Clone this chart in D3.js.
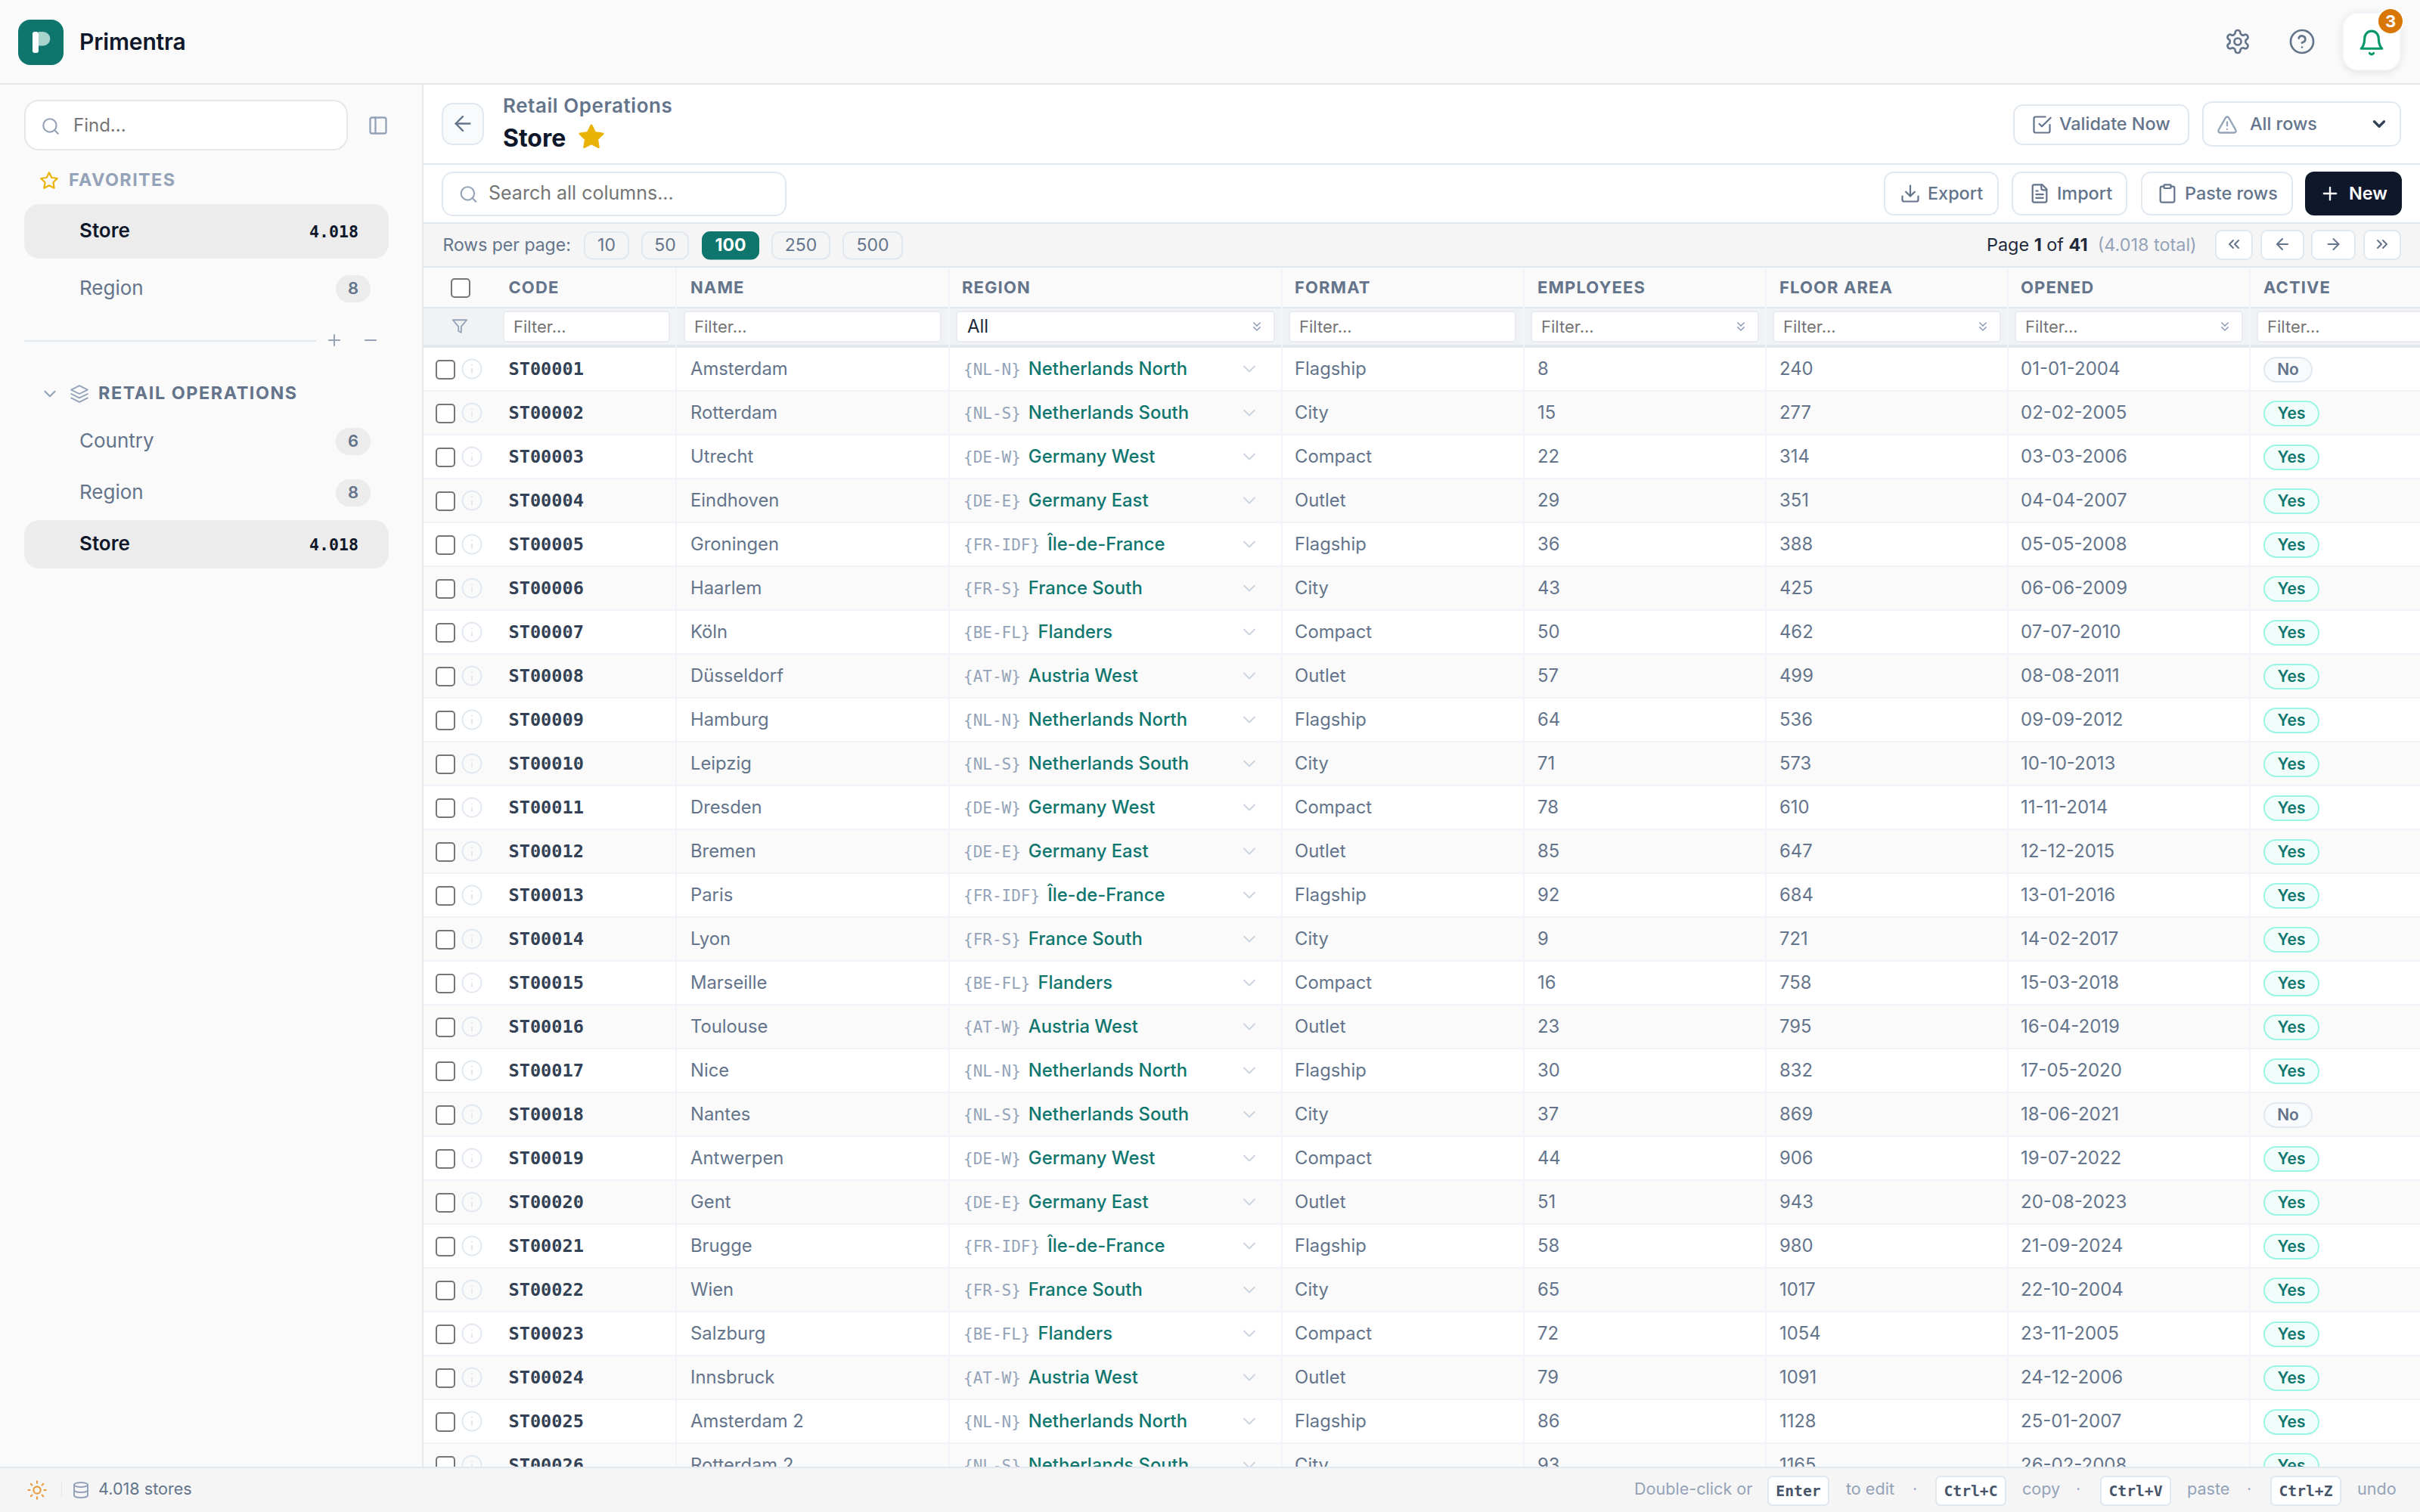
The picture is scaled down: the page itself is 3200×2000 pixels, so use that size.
<!DOCTYPE html>
<html>
<head>
<meta charset="utf-8">
<script src="https://cdn.jsdelivr.net/npm/d3@7"></script>
<style>
  html, body { margin: 0; padding: 0; background: #fff; overflow: hidden; }
  svg { display: block; }
</style>
</head>
<body>
<div id="chart"></div>
<script>
//data
var columns = ['CODE', 'NAME', 'REGION', 'FORMAT', 'EMPLOYEES', 'FLOOR AREA', 'OPENED', 'ACTIVE'];
var codes = ['ST00001', 'ST00002', 'ST00003', 'ST00004', 'ST00005', 'ST00006', 'ST00007', 'ST00008', 'ST00009', 'ST00010', 'ST00011', 'ST00012', 'ST00013', 'ST00014', 'ST00015', 'ST00016', 'ST00017', 'ST00018', 'ST00019', 'ST00020', 'ST00021', 'ST00022', 'ST00023', 'ST00024', 'ST00025', 'ST00026'];
var names = ['Amsterdam', 'Rotterdam', 'Utrecht', 'Eindhoven', 'Groningen', 'Haarlem', 'Köln', 'Düsseldorf', 'Hamburg', 'Leipzig', 'Dresden', 'Bremen', 'Paris', 'Lyon', 'Marseille', 'Toulouse', 'Nice', 'Nantes', 'Antwerpen', 'Gent', 'Brugge', 'Wien', 'Salzburg', 'Innsbruck', 'Amsterdam 2', 'Rotterdam 2'];
var regionCodes = ['NL-N', 'NL-S', 'DE-W', 'DE-E', 'FR-IDF', 'FR-S', 'BE-FL', 'AT-W', 'NL-N', 'NL-S', 'DE-W', 'DE-E', 'FR-IDF', 'FR-S', 'BE-FL', 'AT-W', 'NL-N', 'NL-S', 'DE-W', 'DE-E', 'FR-IDF', 'FR-S', 'BE-FL', 'AT-W', 'NL-N', 'NL-S'];
var regionNames = ['Netherlands North', 'Netherlands South', 'Germany West', 'Germany East', 'Île-de-France', 'France South', 'Flanders', 'Austria West', 'Netherlands North', 'Netherlands South', 'Germany West', 'Germany East', 'Île-de-France', 'France South', 'Flanders', 'Austria West', 'Netherlands North', 'Netherlands South', 'Germany West', 'Germany East', 'Île-de-France', 'France South', 'Flanders', 'Austria West', 'Netherlands North', 'Netherlands South'];
var formats = ['Flagship', 'City', 'Compact', 'Outlet', 'Flagship', 'City', 'Compact', 'Outlet', 'Flagship', 'City', 'Compact', 'Outlet', 'Flagship', 'City', 'Compact', 'Outlet', 'Flagship', 'City', 'Compact', 'Outlet', 'Flagship', 'City', 'Compact', 'Outlet', 'Flagship', 'City'];
var employees = [8, 15, 22, 29, 36, 43, 50, 57, 64, 71, 78, 85, 92, 9, 16, 23, 30, 37, 44, 51, 58, 65, 72, 79, 86, 93];
var floorAreas = [240, 277, 314, 351, 388, 425, 462, 499, 536, 573, 610, 647, 684, 721, 758, 795, 832, 869, 906, 943, 980, 1017, 1054, 1091, 1128, 1165];
var opened = ['01-01-2004', '02-02-2005', '03-03-2006', '04-04-2007', '05-05-2008', '06-06-2009', '07-07-2010', '08-08-2011', '09-09-2012', '10-10-2013', '11-11-2014', '12-12-2015', '13-01-2016', '14-02-2017', '15-03-2018', '16-04-2019', '17-05-2020', '18-06-2021', '19-07-2022', '20-08-2023', '21-09-2024', '22-10-2004', '23-11-2005', '24-12-2006', '25-01-2007', '26-02-2008'];
var active = ['No', 'Yes', 'Yes', 'Yes', 'Yes', 'Yes', 'Yes', 'Yes', 'Yes', 'Yes', 'Yes', 'Yes', 'Yes', 'Yes', 'Yes', 'Yes', 'Yes', 'No', 'Yes', 'Yes', 'Yes', 'Yes', 'Yes', 'Yes', 'Yes', 'Yes'];
var pageSizes = ['10', '50', '100', '250', '500'];

//dims
var width = 3200;
var height = 2000;
var sans = 'Inter, sans-serif';
var mono = '"DejaVu Sans Mono", monospace';
var cell = 23.8;

//scales
var y = d3.scaleBand().domain(codes).range([460, 460 + codes.length * 58]);
var colLeft = d3.scaleOrdinal().domain(columns).range([560, 894, 1255, 1695, 2015, 2335, 2655, 2975]);
var colText = d3.scaleOrdinal().domain(columns).range([672.5, 913, 1272, 1712, 2033, 2353, 2672, 2993]);

var svg = d3.select('#chart')
  .append('svg')
  .attr('width', width)
  .attr('height', height)
  .attr('viewBox', '0 0 ' + width + ' ' + height);

//lucide style icons on a 24 grid
var icons = {
  search: ['M11 3a8 8 0 1 0 0 16a8 8 0 1 0 0-16', 'm21 21-4.3-4.3'],
  panel: ['M5 3h14a2 2 0 0 1 2 2v14a2 2 0 0 1-2 2H5a2 2 0 0 1-2-2V5a2 2 0 0 1 2-2z', 'M9 3v18'],
  star: ['M12 2 15.09 8.26 22 9.27 17 14.14 18.18 21.02 12 17.77 5.82 21.02 7 14.14 2 9.27 8.91 8.26z'],
  plus: ['M5 12h14', 'M12 5v14'],
  minus: ['M5 12h14'],
  chevron: ['m6 9 6 6 6-6'],
  chevrons: ['m7 6 5 5 5-5', 'm7 13 5 5 5-5'],
  layers: ['m12 2-10 5 10 5 10-5z', 'M2 17l10 5 10-5', 'M2 12l10 5 10-5'],
  back: ['m12 19-7-7 7-7', 'M19 12H5'],
  forward: ['M5 12h14', 'm12 5 7 7-7 7'],
  gear: ['M12.22 2h-.44a2 2 0 0 0-2 2v.18a2 2 0 0 1-1 1.73l-.43.25a2 2 0 0 1-2 0l-.15-.08a2 2 0 0 0-2.73.73l-.22.38a2 2 0 0 0 .73 2.73l.15.1a2 2 0 0 1 1 1.72v.51a2 2 0 0 1-1 1.74l-.15.09a2 2 0 0 0-.73 2.73l.22.38a2 2 0 0 0 2.73.73l.15-.08a2 2 0 0 1 2 0l.43.25a2 2 0 0 1 1 1.73V20a2 2 0 0 0 2 2h.44a2 2 0 0 0 2-2v-.18a2 2 0 0 1 1-1.73l.43-.25a2 2 0 0 1 2 0l.15.08a2 2 0 0 0 2.73-.73l.22-.39a2 2 0 0 0-.73-2.73l-.15-.08a2 2 0 0 1-1-1.74v-.5a2 2 0 0 1 1-1.74l.15-.09a2 2 0 0 0 .73-2.73l-.22-.38a2 2 0 0 0-2.73-.73l-.15.08a2 2 0 0 1-2 0l-.43-.25a2 2 0 0 1-1-1.73V4a2 2 0 0 0-2-2z', 'M12 9a3 3 0 1 0 0 6a3 3 0 1 0 0-6'],
  help: ['M12 2a10 10 0 1 0 0 20a10 10 0 1 0 0-20', 'M9.09 9a3 3 0 0 1 5.83 1c0 2-3 3-3 3', 'M12 17h.01'],
  bell: ['M6 8a6 6 0 0 1 12 0c0 7 3 9 3 9H3s3-2 3-9', 'M10.3 21a1.94 1.94 0 0 0 3.4 0'],
  check: ['m9 11 3 3L22 4', 'M21 12v7a2 2 0 0 1-2 2H5a2 2 0 0 1-2-2V5a2 2 0 0 1 2-2h11'],
  warn: ['m21.73 18-8-14a2 2 0 0 0-3.48 0l-8 14A2 2 0 0 0 4 21h16a2 2 0 0 0 1.73-3', 'M12 9v4', 'M12 17h.01'],
  download: ['M21 15v4a2 2 0 0 1-2 2H5a2 2 0 0 1-2-2v-4', 'M7 10l5 5 5-5', 'M12 15V3'],
  file: ['M15 2H6a2 2 0 0 0-2 2v16a2 2 0 0 0 2 2h12a2 2 0 0 0 2-2V7Z', 'M14 2v4a2 2 0 0 0 2 2h4', 'M10 9H8', 'M16 13H8', 'M16 17H8'],
  clipboard: ['M9 2h6a1 1 0 0 1 1 1v2a1 1 0 0 1-1 1H9a1 1 0 0 1-1-1V3a1 1 0 0 1 1-1z', 'M16 4h2a2 2 0 0 1 2 2v14a2 2 0 0 1-2 2H6a2 2 0 0 1-2-2V6a2 2 0 0 1 2-2h2'],
  first: ['m11 17-5-5 5-5', 'm18 17-5-5 5-5'],
  last: ['m6 17 5-5-5-5', 'm13 17 5-5-5-5'],
  funnel: ['M22 3H2l8 9.46V19l4 2v-8.54z'],
  info: ['M12 2a10 10 0 1 0 0 20a10 10 0 1 0 0-20', 'M12 16v-4', 'M12 8h.01'],
  sun: ['M12 8a4 4 0 1 0 0 8a4 4 0 1 0 0-8', 'M12 2v2', 'M12 20v2', 'm4.93 4.93 1.41 1.41', 'm17.66 17.66 1.41 1.41', 'M2 12h2', 'M20 12h2', 'm6.34 17.66-1.41 1.41', 'm19.07 4.93-1.41 1.41'],
  database: ['M3 5a9 3 0 1 0 18 0a9 3 0 1 0-18 0', 'M3 5V19A9 3 0 0 0 21 19V5', 'M3 12A9 3 0 0 0 21 12']
};

function box(parent, x, y, w, h, r, fill, stroke, sw) {
  return parent.append('rect')
    .attr('x', x).attr('y', y)
    .attr('width', w).attr('height', h)
    .attr('rx', r)
    .attr('fill', fill)
    .attr('stroke', stroke || 'none')
    .attr('stroke-width', sw || 0);
}

function label(parent, x, y, str, size, weight, fill, family, anchor, spacing) {
  return parent.append('text')
    .attr('x', x).attr('y', y)
    .attr('font-family', family || sans)
    .attr('font-size', size)
    .attr('font-weight', weight)
    .attr('fill', fill)
    .attr('text-anchor', anchor || 'start')
    .attr('letter-spacing', spacing || 0)
    .attr('xml:space', 'preserve')
    .text(str);
}

// cx, cy is the middle of the icon
function icon(parent, cx, cy, size, name, color, sw, fill) {
  var k = size / 24;
  var g = parent.append('g')
    .attr('transform', 'translate(' + (cx - size / 2) + ',' + (cy - size / 2) + ') scale(' + k + ')')
    .attr('fill', fill || 'none')
    .attr('stroke', color)
    .attr('stroke-width', sw)
    .attr('stroke-linecap', 'round')
    .attr('stroke-linejoin', 'round');
  g.selectAll('path').data(icons[name]).enter().append('path').attr('d', function(d) { return d; });
  return g;
}

function hline(parent, x1, x2, y, color, sw) {
  parent.append('rect').attr('x', x1).attr('y', y).attr('width', x2 - x1).attr('height', sw || 2).attr('fill', color);
}

var line = '#e2e8f0';
var teal = '#0f766e';
var slate = '#64748b';
var light = '#94a3b8';
var ink = '#0f172a';
var hint = '#757575';

// page backgrounds
box(svg, 0, 0, width, height, 0, '#ffffff');
box(svg, 0, 0, width, 110, 0, '#fafafa');
box(svg, 0, 112, 558, 1830, 0, '#fafafa');
hline(svg, 0, width, 110, '#e5e7eb');
svg.append('rect').attr('x', 558).attr('y', 112).attr('width', 2).attr('height', 1830).attr('fill', '#e5e7eb');

// top bar
var topBar = svg.append('g');
box(topBar, 24, 26, 60, 60, 16, teal);
box(topBar, 43, 42, 8, 28, 3, '#ffffff');
topBar.append('path').attr('d', 'M51 42h6a9.3 9.3 0 0 1 0 18.6h-6z').attr('fill', '#a9d3cd');
label(topBar, 105, 65.5, 'Primentra', 30, 600, ink, sans, 'start', -0.15);
icon(topBar, 2959, 55, 36, 'gear', slate, 1.8);
icon(topBar, 3044, 55, 36, 'help', slate, 1.8);
box(topBar, 3098, 17, 76, 76, 20, '#ffffff', '#f1f5f9', 2).style('filter', 'drop-shadow(0 2px 5px rgba(15,23,42,0.1))');
icon(topBar, 3136, 56.5, 37, 'bell', '#059669', 2);
topBar.append('circle').attr('cx', 3161).attr('cy', 28).attr('r', 17).attr('fill', '#d97706').attr('stroke', '#ffffff').attr('stroke-width', 2);
label(topBar, 3161, 36, '3', 22, 700, '#ffffff', sans, 'middle');

// sidebar
var side = svg.append('g');
box(side, 33, 133, 426, 65, 18, '#ffffff', '#e5e7eb', 2);
icon(side, 67, 167, 26, 'search', light, 2);
label(side, 97, 174, 'Find...', 24, 400, hint);
icon(side, 500, 166, 28, 'panel', light, 2);

icon(side, 65, 239, 26, 'star', '#eab308', 2);
label(side, 91, 246, 'FAVORITES', 23.4, 700, light, sans, 'start', 1.4);

function navItem(text, baseline, count, current, pillTop, pillHeight) {
  if (current) {
    box(side, 32, pillTop, 482, pillHeight, 20, '#ececec');
    label(side, 105, baseline, text, 26, 600, ink);
    label(side, 474, baseline, count, 21.6, 700, ink, mono, 'end');
  } else {
    label(side, 105, baseline, text, 26, 400, slate);
    box(side, 444, baseline - 26, 46, 36, 18, '#ececec');
    label(side, 467, baseline - 1, count, 22, 600, slate, sans, 'middle');
  }
}

navItem('Store', 313.5, '4.018', true, 270, 72);
navItem('Region', 390, '8', false);

hline(side, 32, 418, 450, line);
icon(side, 442, 450, 24, 'plus', light, 2);
icon(side, 490, 450, 24, 'minus', light, 2);

icon(side, 66, 521, 26, 'chevron', light, 2);
icon(side, 105, 521, 26, 'layers', light, 1.8);
label(side, 130, 528, 'RETAIL OPERATIONS', 23.4, 700, slate, sans, 'start', 1.55);
navItem('Country', 592, '6', false);
navItem('Region', 660, '8', false);
navItem('Store', 728, '4.018', true, 688, 64);

// page heading
var head = svg.append('g');
box(head, 585, 137, 54, 54, 14, '#f8fafc', line, 2);
icon(head, 612, 163.5, 32, 'back', slate, 1.8);
label(head, 665, 148.5, 'Retail Operations', 26, 600, slate, sans, 'start', 0.55);
label(head, 665, 194, 'Store', 32, 700, ink);
icon(head, 782, 181, 36, 'star', '#eab308', 2, '#eab308');

function button(parent, x, w, boxTop, boxHeight, name, text, textX, baseline) {
  box(parent, x + 1, boxTop + 1, w - 2, boxHeight - 2, 12, '#ffffff', line, 2);
  icon(parent, textX - 23, boxTop + boxHeight / 2, 28, name, slate, 1.9);
  label(parent, textX, baseline, text, 23.4, 500, slate);
}

button(head, 2662, 233, 138, 54, 'check', 'Validate Now', 2723, 172);
box(head, 2913, 135, 261, 58, 12, '#ffffff', line, 2);
icon(head, 2945, 165, 28, 'warn', light, 2);
label(head, 2975, 172, 'All rows', 23.4, 500, slate);
icon(head, 3146, 164, 26, 'chevron', '#334155', 3);

hline(svg, 560, width, 216, line);

// action bar
var bar = svg.append('g');
box(bar, 585, 228, 454, 57, 14, '#ffffff', line, 2);
icon(bar, 619.5, 257, 26, 'search', light, 2);
label(bar, 646, 264, 'Search all columns...', 25, 400, hint);
button(bar, 2491, 152, 227, 58, 'download', 'Export', 2549, 264);
button(bar, 2660, 153, 227, 58, 'file', 'Import', 2720, 264);
button(bar, 2831, 201, 227, 58, 'clipboard', 'Paste rows', 2889, 264);
box(bar, 3048, 227, 128, 58, 12, ink);
icon(bar, 3081, 256, 28, 'plus', '#ffffff', 2);
label(bar, 3106, 264, 'New', 23.4, 600, '#ffffff');

hline(svg, 560, width, 294, line);

// rows per page and pager
var pager = svg.append('g');
box(pager, 560, 296, width - 560, 57, 0, '#f5f5f5');
label(pager, 585.5, 332, 'Rows per page:', 23, 400, slate);
var chipLeft = d3.scaleOrdinal().domain(pageSizes).range([772, 848, 928, 1020, 1114]);
var chipRight = d3.scaleOrdinal().domain(pageSizes).range([832, 911, 1004, 1098, 1194]);
pageSizes.forEach(function(d) {
  var on = d === '100';
  box(pager, chipLeft(d) + 1, 307, chipRight(d) - chipLeft(d) - 2, 35.5, 10, on ? teal : '#f5f5f5', on ? teal : line, 2);
  label(pager, (chipLeft(d) + chipRight(d)) / 2, 332, d, 23, on ? 700 : 400, on ? '#ffffff' : slate, sans, 'middle');
});

var pageText = label(pager, 2627, 332, '', 23.4, 400, '#1e293b');
pageText.append('tspan').text('Page ');
pageText.append('tspan').attr('font-weight', 700).text('1');
pageText.append('tspan').text(' of ');
pageText.append('tspan').attr('font-weight', 700).text('41');
pageText.append('tspan').attr('fill', light).text('  (4.018 total)');

[[2929, 50, 'first'], [2989, 58, 'back'], [3056, 59, 'forward'], [3125, 50, 'last']].forEach(function(p) {
  box(pager, p[0] + 1, 305, p[1] - 2, 38, 8, '#ffffff', line, 2);
  icon(pager, p[0] + p[1] / 2, 323, 24, p[2], slate, 2);
});

// table header and filters
var thead = svg.append('g');
box(thead, 560, 353, width - 560, 53, 0, '#fafafa');
box(thead, 560, 406, width - 560, 50, 0, '#f1f2f4');
hline(thead, 560, width, 352, line);
hline(thead, 560, width, 406, line, 2);
hline(thead, 560, width, 456, line, 4);

box(thead, 597, 369, 24, 24, 4, '#ffffff', '#767676', 2);
icon(thead, 608, 431.5, 22, 'funnel', light, 2);

var filterRight = d3.scaleOrdinal().domain(columns).range([885, 1244, 1685, 2004, 2325, 2645, 2965, 3240]);
var filterLeft = d3.scaleOrdinal().domain(columns).range([666, 905, 1265, 1705, 2025, 2345, 2665, 2985]);
var filterChevrons = ['REGION', 'EMPLOYEES', 'FLOOR AREA', 'OPENED'];

columns.forEach(function(c, i) {
  label(thead, colText(c), 388, c, 22, 700, slate, sans, 'start', 1.1);
  box(thead, filterLeft(c), 412, filterRight(c) - filterLeft(c), 40, 4, '#ffffff', '#e8ecf1', 2);
  if (c === 'REGION') {
    label(thead, filterLeft(c) + 14, 440, 'All', 24, 400, '#1e293b');
  } else {
    label(thead, filterLeft(c) + 13, 440, 'Filter...', 22, 400, hint);
  }
  if (filterChevrons.indexOf(c) >= 0) {
    icon(thead, filterRight(c) - 23, 432, 20, 'chevrons', light, 2);
  }
});

// body rows, cut off by the footer
var clip = svg.append('clipPath').attr('id', 'body');
clip.append('rect').attr('x', 560).attr('y', 460).attr('width', width - 560).attr('height', 1480);

var tbody = svg.append('g').attr('clip-path', 'url(#body)');

var row = tbody.selectAll('g.row')
  .data(codes)
  .enter()
  .append('g')
  .attr('class', 'row')
  .attr('transform', function(d) { return 'translate(0,' + y(d) + ')'; });

row.append('rect')
  .attr('x', 560).attr('y', 0)
  .attr('width', width - 560)
  .attr('height', y.bandwidth())
  .attr('fill', function(d, i) { return i % 2 ? '#fafafa' : '#ffffff'; });

row.append('rect')
  .attr('x', 560).attr('y', y.bandwidth() - 2)
  .attr('width', width - 560)
  .attr('height', 2)
  .attr('fill', '#f1f5f9');

row.each(function(d, i) {
  var g = d3.select(this);
  box(g, 577, 17, 24, 24, 4, '#ffffff', '#767676', 2);
  icon(g, 624, 28, 30, 'info', line, 1.6);
  label(g, colText('CODE'), 36, d, 23.6, 700, '#334155', mono);
  label(g, colText('NAME'), 36, names[i], cell, 400, slate);

  var tag = label(g, colText('REGION') + 2, 36, '{' + regionCodes[i] + '}', 21, 400, light, mono);
  var tagWidth = tag.node().getComputedTextLength();
  label(g, colText('REGION') + 2 + tagWidth + 10, 36, regionNames[i], cell, 500, teal);
  icon(g, 1652, 28, 28, 'chevron', '#cbd5e1', 1.6);

  label(g, colText('FORMAT'), 36, formats[i], cell, 400, slate);
  label(g, colText('EMPLOYEES'), 36, employees[i], cell, 400, slate);
  label(g, colText('FLOOR AREA'), 36, floorAreas[i], cell, 400, slate);
  label(g, colText('OPENED'), 36, opened[i], 24, 400, slate);

  var yes = active[i] === 'Yes';
  box(g, colText('ACTIVE') + 1, 13, yes ? 72 : 63, 32, 16, yes ? '#f0fdfa' : '#f8fafc', yes ? '#99f6e4' : line, 2);
  label(g, colText('ACTIVE') + (yes ? 37 : 32.5), 36, active[i], 21, 600, yes ? teal : slate, sans, 'middle');
});

// column separators sit on top of the stripes
columns.forEach(function(c) {
  if (c === 'CODE') { return; }
  svg.append('rect').attr('x', colLeft(c) - 1).attr('y', 354).attr('width', 2).attr('height', 1586).attr('fill', '#f1f5f9');
});

// footer
var foot = svg.append('g');
box(foot, 0, 1942, width, 58, 0, '#f5f5f6');
hline(foot, 0, width, 1940, line);
icon(foot, 49, 1971, 28, 'sun', '#e89b3c', 1.8);
foot.append('rect').attr('x', 81).attr('y', 1961).attr('width', 1).attr('height', 20).attr('fill', '#e2e8f0');
icon(foot, 107, 1971, 24, 'database', light, 2);
label(foot, 130, 1977, '4.018 stores', 21.6, 400, slate);

label(foot, 2161, 1977, 'Double-click or', 21.6, 400, light);
label(foot, 2441, 1977, 'to edit', 21.6, 400, light);
label(foot, 2532, 1977, '·', 21.6, 400, light, sans, 'middle');
label(foot, 2674, 1977, 'copy', 21.6, 400, light);
label(foot, 2748, 1977, '·', 21.6, 400, light, sans, 'middle');
label(foot, 2892, 1977, 'paste', 21.6, 400, light);
label(foot, 2974, 1977, '·', 21.6, 400, light, sans, 'middle');
label(foot, 3117, 1977, 'undo', 21.6, 400, light);

[[2337, 82, 'Enter'], [2559, 94, 'Ctrl+C'], [2777, 94, 'Ctrl+V'], [3002, 94, 'Ctrl+Z']].forEach(function(k) {
  box(foot, k[0] + 1, 1953, k[1] - 2, 38, 6, '#ffffff', line, 2);
  label(foot, k[0] + k[1] / 2, 1979, k[2], 19.7, 700, '#475569', mono, 'middle');
});
</script>
</body>
</html>
